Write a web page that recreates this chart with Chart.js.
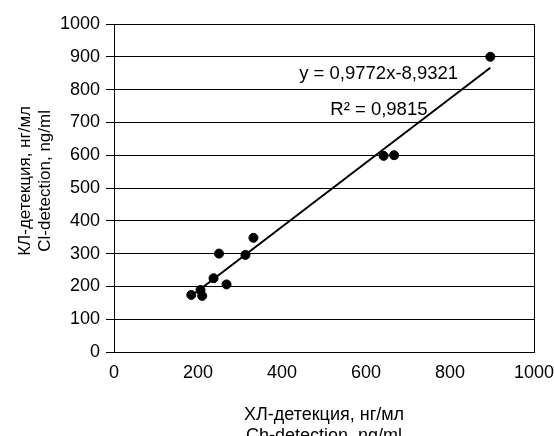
<!DOCTYPE html>
<html>
<head>
<meta charset="utf-8">
<script src="https://cdn.jsdelivr.net/npm/chart.js@4.4.1/dist/chart.umd.min.js"></script>
<style>
  html, body { margin: 0; padding: 0; background: #fff; overflow: hidden; }
  #wrap { width: 554px; height: 450px; }
</style>
</head>
<body>
<div id="wrap"><canvas id="canvas_scatter"></canvas></div>
<script>
// measured points (ХЛ vs КЛ detection)
const xValues = [184, 206, 210, 237, 250, 268, 313, 332, 642, 667, 896];
const yValues = [174, 189, 171, 225, 300, 206, 296, 348, 598, 600, 900];
// trend line from the chart's own equation
const slope = 0.9772;
const intercept = -8.9321;
const eqText = 'y = 0,9772x-8,9321';
const r2Text = 'R\u00B2 = 0,9815';
const xTitle = ['ХЛ-детекция, нг/мл', 'Ch-detection, ng/ml'];
const yTitle = ['   КЛ-детекция, нг/мл', '   Cl-detection, ng/ml'];

const FONT = 'Liberation Sans, Arial, sans-serif';

var points = xValues.map((x, i) => ({ x: x, y: yValues[i] }));
var xMin = Math.min(...xValues);
var xMax = Math.max(...xValues);
var trend = [
  { x: xMin, y: slope * xMin + intercept },
  { x: xMax, y: slope * xMax + intercept },
];

// equation labels, drawn in data coordinates
const labelsPlugin = {
  id: 'eqLabels',
  afterDatasetsDraw(chart) {
    const ctx = chart.ctx;
    const xs = chart.scales.x, ys = chart.scales.y;
    ctx.save();
    ctx.fillStyle = '#000';
    ctx.font = '18.5px ' + FONT;
    ctx.textAlign = 'left';
    ctx.textBaseline = 'alphabetic';
    ctx.fillText(eqText, xs.getPixelForValue(441), ys.getPixelForValue(832));
    ctx.fillText(r2Text, xs.getPixelForValue(515), ys.getPixelForValue(722));
    ctx.restore();
  }
};

const config_scatter = {
  type: 'scatter',
  data: {
    datasets: [
      {
        data: points,
        backgroundColor: '#000',
        borderColor: '#000',
        pointRadius: 4.5,
        pointHoverRadius: 4.5,
      },
      {
        type: 'line',
        data: trend,
        borderColor: '#000',
        borderWidth: 2,
        pointRadius: 0,
        fill: false,
      },
    ],
  },
  options: {
    responsive: true,
    maintainAspectRatio: false,
    animation: false,
    layout: { padding: { top: 24, right: 20, left: 0, bottom: 0 } },
    plugins: { legend: { display: false }, tooltip: { enabled: false } },
    scales: {
      x: {
        type: 'linear',
        min: 0,
        max: 1000,
        afterFit: s => { s.height = 98; s.paddingLeft = 0; s.paddingRight = 0; },
        ticks: {
          stepSize: 200, color: '#000', font: { family: FONT, size: 18 }, padding: 10, maxRotation: 0,
          callback: v => String(v),
        },
        grid: {
          drawTicks: false,
          color: c => (c.tick && c.tick.value === 1000 ? '#000' : 'rgba(0,0,0,0)'),
        },
        border: { color: '#000', width: 1 },
        title: {
          display: true,
          text: xTitle,
          color: '#000',
          font: { family: FONT, size: 18 },
          padding: { top: 0, bottom: 3 },
        },
      },
      y: {
        min: 0,
        max: 1000,
        afterFit: s => { s.width = 114; },
        ticks: {
          stepSize: 100, color: '#000', font: { family: FONT, size: 18 }, padding: 6,
          callback: v => String(v),
        },
        grid: { color: '#000', tickLength: 8 },
        border: { color: '#000', width: 1 },
        title: {
          display: true,
          text: yTitle,
          color: '#000',
          font: { family: FONT, size: 17, lineHeight: 1.15 },
          padding: { top: 16, bottom: 0 },
        },
      },
    },
  },
  plugins: [labelsPlugin],
};

const canvas_scatter = document.getElementById('canvas_scatter');
const chart_scatter = new Chart(canvas_scatter, config_scatter);
</script>
</body>
</html>
